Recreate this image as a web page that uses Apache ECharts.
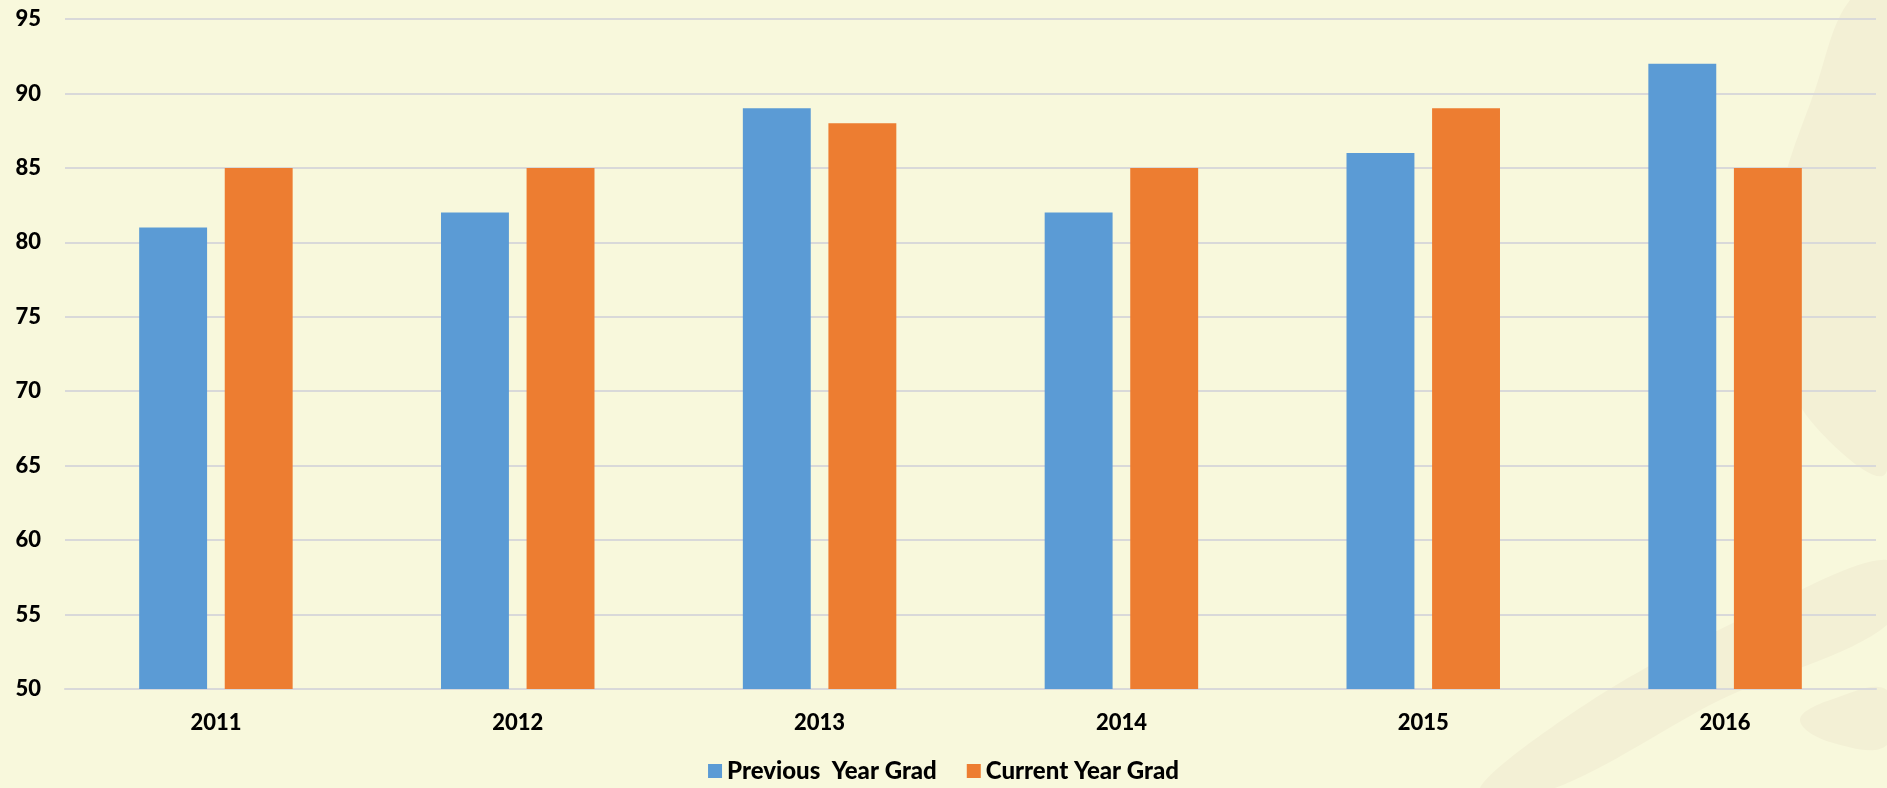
<!DOCTYPE html>
<html>
<head>
<meta charset="utf-8">
<script src="https://cdn.jsdelivr.net/npm/echarts@6/dist/echarts.min.js"></script>
<style>
html,body{margin:0;padding:0;background:#F8F8DC;}
#c{width:1887px;height:788px;}
</style>
</head>
<body>
<div id="c"></div>
<script>
const categories = ['2011', '2012', '2013', '2014', '2015', '2016'];
const previousYearGrad = [81, 82, 89, 82, 86, 92];
const currentYearGrad = [85, 85, 88, 85, 89, 85];
const seriesNames = ['Previous  Year Grad', 'Current Year Grad'];

const chart = echarts.init(document.getElementById('c'), null, {renderer: 'canvas'});
const font = 'Lato, "Open Sans", sans-serif';
chart.setOption({
  backgroundColor: '#F8F8DC',
  animation: false,
  graphic: [
    {type: 'polygon', z: -10, silent: true,
     shape: {points: [[1850,0],[1887,0],[1887,470],[1810,420],[1775,330],[1780,200],[1815,90]], smooth: 0.35},
     style: {fill: '#F3F0D5'}},
    {type: 'polygon', z: -10, silent: true,
     shape: {points: [[1887,560],[1887,625],[1720,700],[1555,788],[1480,788],[1600,695],[1760,610]], smooth: 0.3},
     style: {fill: '#F3F0D5'}},
    {type: 'polygon', z: -10, silent: true,
     shape: {points: [[1887,690],[1887,745],[1830,742],[1800,720],[1830,700]], smooth: 0.4},
     style: {fill: '#F3F0D5'}}
  ],
  grid: {left: 65, right: 11, top: 19, bottom: 99, containLabel: false},
  legend: {
    bottom: 0,
    left: 'center',
    itemWidth: 14, itemHeight: 14, itemGap: 30,
    icon: 'rect',
    textStyle: {fontFamily: font, fontWeight: 900, fontSize: 24, color: '#000'},
    data: seriesNames
  },
  xAxis: {
    type: 'category',
    data: categories,
    axisLine: {show: true, lineStyle: {color: '#D9D9D9', width: 2}},
    axisTick: {show: false},
    axisLabel: {fontFamily: font, fontWeight: 900, fontSize: 22, color: '#000', margin: 23}
  },
  yAxis: {
    type: 'value',
    min: 50, max: 95, interval: 5,
    axisLine: {show: false},
    axisTick: {show: false},
    splitLine: {lineStyle: {color: '#D9D9D9', width: 2}},
    axisLabel: {fontFamily: font, fontWeight: 900, fontSize: 22, color: '#000', margin: 24}
  },
  series: [
    {name: seriesNames[0], type: 'bar', data: previousYearGrad, barWidth: '22.5%', barGap: '26%',
     itemStyle: {color: '#5B9BD5'}},
    {name: seriesNames[1], type: 'bar', data: currentYearGrad, barWidth: '22.5%', barGap: '26%',
     itemStyle: {color: '#ED7D31'}}
  ]
});
</script>
</body>
</html>
